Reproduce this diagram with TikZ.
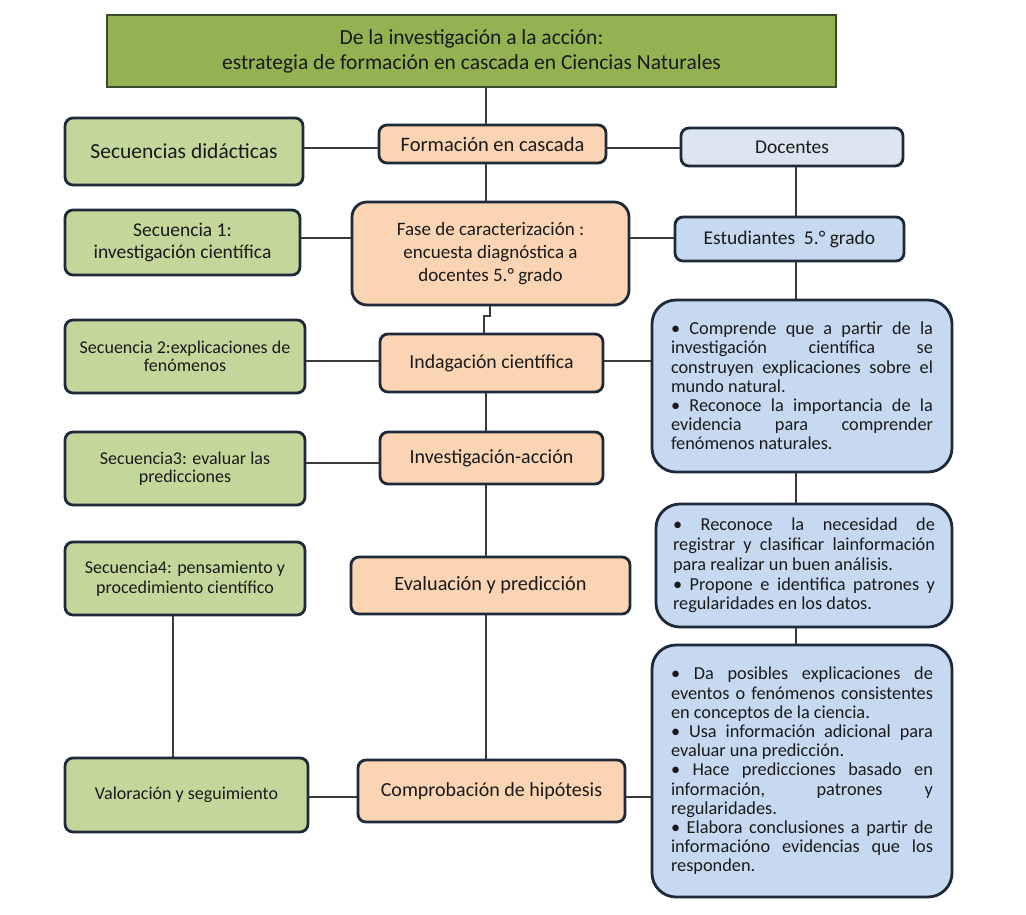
\documentclass[tikz,border=0pt]{standalone}
\usepackage{fontspec}
\setmainfont{Carlito}
\setlength\parindent{0pt}
\definecolor{titlegreen}{HTML}{93B353}
\definecolor{titleborder}{HTML}{3A4A2A}
\definecolor{lightgreen}{HTML}{C4D79B}
\definecolor{peach}{HTML}{FBD4B4}
\definecolor{paleblue}{HTML}{DBE5F1}
\definecolor{midblue}{HTML}{C6D9F1}
\definecolor{navy}{HTML}{1E2A3A}
\definecolor{linegray}{HTML}{3A3A3A}
\definecolor{txt}{HTML}{1A1A1A}
\begin{document}
\begin{tikzpicture}[x=1pt,y=-1pt,
  box/.style={draw=navy, line width=2.8pt, rounded corners=8pt, align=center, inner sep=2pt, text=txt},
  gbox/.style={box, fill=lightgreen},
  pbox/.style={box, fill=peach},
  bbox/.style={box, fill=midblue},
  bigbox/.style={box, fill=midblue, rounded corners=24pt, align=justify, text width=262pt},
  conn/.style={draw=linegray, line width=1.4pt}]
\useasboundingbox (0,0) rectangle (1026,914);
\fill[white] (0,0) rectangle (1026,914);

\node[draw=titleborder, line width=2.5pt, fill=titlegreen, minimum width=729pt, minimum height=72pt, align=center, text=txt,
  font=\fontsize{21.5}{25}\selectfont] (title) at (471.5,51)
  {De la investigación a la acción:\\estrategia de formación en cascada en Ciencias Naturales};

\node[gbox, minimum width=238pt, minimum height=67pt, font=\fontsize{21.5}{24}\selectfont] (sd) at (184,151.5) {Secuencias didácticas};
\node[pbox, minimum width=227pt, minimum height=38pt, font=\fontsize{20.5}{22}\selectfont] (fc) at (492.5,144) {Formación en cascada};
\node[box, fill=paleblue, minimum width=222pt, minimum height=38pt, font=\fontsize{19.5}{20}\selectfont] (doc) at (792,147) {Docentes};

\node[gbox, minimum width=235pt, minimum height=65pt, font=\fontsize{19.5}{22}\selectfont] (s1) at (182.5,242.5) {Secuencia 1:\\investigación científica};
\node[pbox, rounded corners=15pt, minimum width=277pt, minimum height=103pt, font=\fontsize{19}{23}\selectfont] (fase) at (490.5,253.5) {Fase de caracterización :\\encuesta diagnóstica a\\docentes 5.° grado};
\node[bbox, minimum width=229pt, minimum height=44pt, font=\fontsize{19.5}{20}\selectfont] (est) at (789.5,239) {Estudiantes\ \ 5.° grado};

\node[gbox, minimum width=240pt, minimum height=73pt, font=\fontsize{18}{18.5}\selectfont] (s2) at (185,356.5) {Secuencia 2:explicaciones de\\fenómenos};
\node[pbox, minimum width=223pt, minimum height=58pt, font=\fontsize{19.8}{20}\selectfont] (ind) at (491.5,363) {Indagación científica};

\node[gbox, minimum width=240pt, minimum height=73pt, font=\fontsize{18}{18.5}\selectfont] (s3) at (185,468.5) {Secuencia3: evaluar las\\predicciones};
\node[pbox, minimum width=223pt, minimum height=52pt, font=\fontsize{20}{20}\selectfont] (ia) at (491.5,458) {Investigación-acción};

\node[gbox, minimum width=240pt, minimum height=73pt, font=\fontsize{18}{20}\selectfont] (s4) at (185,578.5) {Secuencia4: pensamiento y\\procedimiento científico};
\node[pbox, minimum width=279pt, minimum height=57pt, font=\fontsize{20.3}{20}\selectfont] (ev) at (490.5,585.5) {Evaluación y predicción};

\node[gbox, minimum width=243pt, minimum height=74pt, font=\fontsize{18}{20}\selectfont] (val) at (186.5,795) {Valoración y seguimiento};
\node[pbox, minimum width=267pt, minimum height=62pt, font=\fontsize{20}{22}\selectfont] (comp) at (491.5,791) {Comprobación de hipótesis};

\node[bigbox, minimum width=300pt, minimum height=172pt, font=\fontsize{18.3}{19.2}\selectfont] (b1) at (802,386)
{• Comprende que a partir de la\linebreak investigación científica se\linebreak construyen explicaciones sobre el\linebreak mundo natural.\par
• Reconoce la importancia de la\linebreak evidencia para comprender\linebreak fenómenos naturales.};

\node[bigbox, minimum width=296pt, minimum height=123pt, font=\fontsize{18.3}{19.8}\selectfont] (b2) at (804,565.5)
{• Reconoce la necesidad de\linebreak registrar y clasificar lainformación\linebreak para realizar un buen análisis.\par
• Propone e identifica patrones y\linebreak regularidades en los datos.};

\node[bigbox, minimum width=300pt, minimum height=252pt, font=\fontsize{18.3}{19.2}\selectfont] (b3) at (802,771)
{• Da posibles explicaciones de\linebreak eventos o fenómenos consistentes\linebreak en conceptos de la ciencia.\par
• Usa información adicional para\linebreak evaluar una predicción.\par
• Hace predicciones basado en\linebreak información, patrones y\linebreak regularidades.\par
• Elabora conclusiones a partir de\linebreak informacióno evidencias que los\linebreak responden.};

\coordinate (spine) at (486,0);
\coordinate (rspine) at (796,0);
\coordinate (lspine) at (173,0);
\coordinate (j1) at (490,316);
\coordinate (j2) at (484,316);
\coordinate (r1) at (0,148);
\coordinate (r2) at (0,238);
\coordinate (r3) at (0,361);
\coordinate (r4) at (0,463);
\coordinate (r5) at (0,797);

\draw[conn] (title.south -| spine) -- (fc.north -| spine);
\draw[conn] (sd.east |- r1) -- (fc.west |- r1);
\draw[conn] (fc.east |- r1) -- (doc.west |- r1);
\draw[conn] (doc.south -| rspine) -- (est.north -| rspine);
\draw[conn] (fc.south -| spine) -- (fase.north -| spine);
\draw[conn] (s1.east |- r2) -- (fase.west |- r2);
\draw[conn] (fase.east |- r2) -- (est.west |- r2);
\draw[conn] (est.south -| rspine) -- (b1.north -| rspine);
\draw[conn] (fase.south -| j1) -- (j1) -- (j2) -- (ind.north -| j2);
\draw[conn] (s2.east |- r3) -- (ind.west |- r3);
\draw[conn] (ind.east |- r3) -- (b1.west |- r3);
\draw[conn] (ind.south -| spine) -- (ia.north -| spine);
\draw[conn] (s3.east |- r4) -- (ia.west |- r4);
\draw[conn] (ia.south -| spine) -- (ev.north -| spine);
\draw[conn] (ev.south -| spine) -- (comp.north -| spine);
\draw[conn] (s4.south -| lspine) -- (val.north -| lspine);
\draw[conn] (val.east |- r5) -- (comp.west |- r5);
\draw[conn] (comp.east |- r5) -- (b3.west |- r5);
\draw[conn] (b1.south -| rspine) -- (b2.north -| rspine);
\draw[conn] (b2.south -| rspine) -- (b3.north -| rspine);
\end{tikzpicture}
\end{document}
